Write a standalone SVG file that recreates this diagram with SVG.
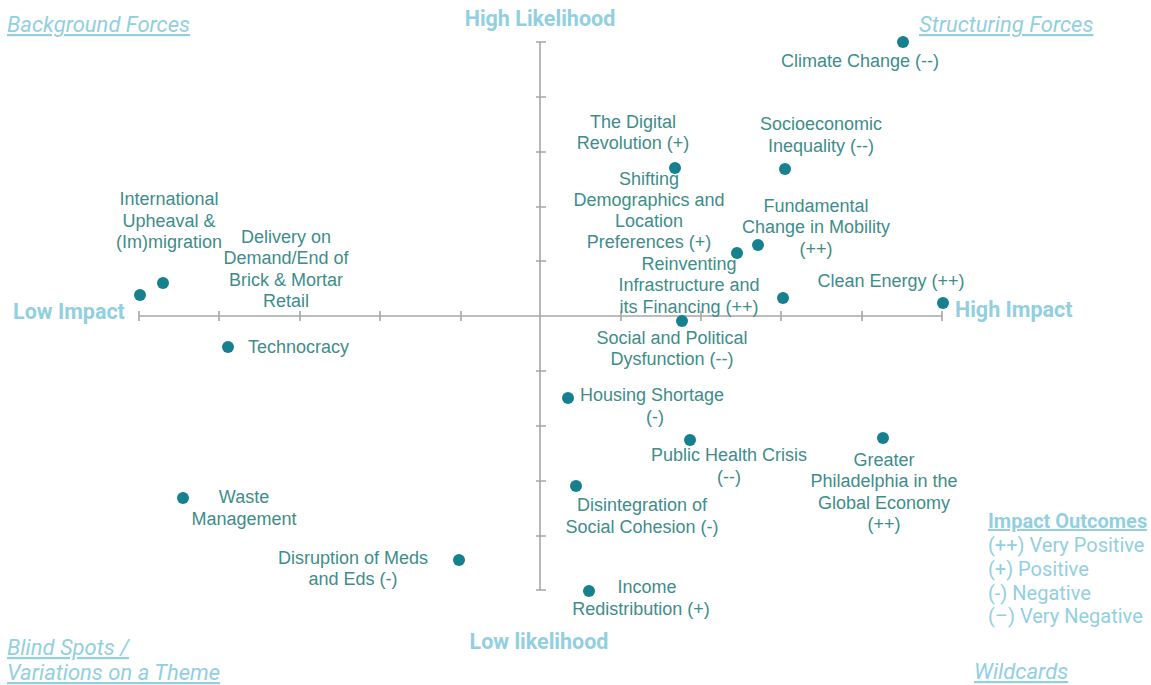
<svg xmlns="http://www.w3.org/2000/svg" width="1151" height="685" viewBox="0 0 1151 685">
<style>
.ax{stroke:#a6a6a6;stroke-width:1.6;fill:none}
.d{fill:#17808f}
.t{font-family:"Liberation Sans",Arial,sans-serif;font-size:18px;fill:#3e8d8a;text-anchor:middle}
.s{text-anchor:start}
.al{font-family:Roboto,"Liberation Sans",sans-serif;font-size:21.5px;font-weight:bold;fill:#92cfdf}
.cl{font-family:Roboto,"Liberation Sans",sans-serif;font-size:22px;font-style:italic;fill:#92cfdf;text-decoration:underline}
.lg{font-family:Roboto,"Liberation Sans",sans-serif;font-size:20px;fill:#92cfdf}
</style>
<rect width="1151" height="685" fill="#fff"/>
<g id="axes">
<line class="ax" x1="540" y1="42" x2="540" y2="590"/>
<line class="ax" x1="139" y1="316" x2="942" y2="316"/>
<path class="ax" d="M536 42H546M536 97H546M536 152H546M536 207H546M536 261H546M536 371H546M536 426H546M536 481H546M536 536H546M536 590H546"/>
<path class="ax" d="M139 311V321M219 311V321M300 311V321M380 311V321M461 311V321M621 311V321M701 311V321M781 311V321M862 311V321M942 311V321"/>
</g>
<g id="axis-labels">
<text class="al" x="540" y="26" text-anchor="middle">High Likelihood</text>
<text class="al" x="539" y="649" text-anchor="middle">Low likelihood</text>
<text class="al" x="13" y="319">Low Impact</text>
<text class="al" x="955" y="317">High Impact</text>
</g>
<g id="corners">
<text class="cl" x="7" y="32">Background Forces</text>
<text class="cl" x="919" y="32">Structuring Forces</text>
<text class="cl" x="7" y="655">Blind Spots /</text>
<text class="cl" x="7" y="680">Variations on a Theme</text>
<text class="cl" x="974" y="679">Wildcards</text>
</g>
<g id="legend">
<text class="lg" x="988" y="528" font-weight="bold" text-decoration="underline">Impact Outcomes</text>
<text class="lg" x="988" y="552">(++) Very Positive</text>
<text class="lg" x="988" y="576">(+) Positive</text>
<text class="lg" x="988" y="600">(-) Negative</text>
<text class="lg" x="988" y="623">(–) Very Negative</text>
</g>
<g id="climate-change"><circle class="d" cx="903" cy="42" r="6"/><text class="t" x="860" y="67">Climate Change (--)</text></g>
<g id="digital-revolution"><circle class="d" cx="675" cy="168" r="6"/><text class="t" x="633" y="128">The Digital</text><text class="t" x="633" y="149">Revolution (+)</text></g>
<g id="socioeconomic-inequality"><circle class="d" cx="785" cy="169" r="6"/><text class="t" x="821" y="130">Socioeconomic</text><text class="t" x="821" y="152">Inequality (--)</text></g>
<g id="shifting-demographics"><circle class="d" cx="737" cy="253" r="6"/><text class="t" x="649" y="185">Shifting</text><text class="t" x="649" y="206">Demographics and</text><text class="t" x="649" y="227">Location</text><text class="t" x="649" y="248">Preferences (+)</text></g>
<g id="mobility"><circle class="d" cx="758" cy="245" r="6"/><text class="t" x="816" y="212">Fundamental</text><text class="t" x="816" y="233">Change in Mobility</text><text class="t" x="816" y="255">(++)</text></g>
<g id="infrastructure"><circle class="d" cx="783" cy="298" r="6"/><text class="t" x="689" y="270">Reinventing</text><text class="t" x="689" y="291">Infrastructure and</text><text class="t" x="689" y="313">its Financing (++)</text></g>
<g id="clean-energy"><circle class="d" cx="943" cy="303" r="6"/><text class="t" x="891" y="287">Clean Energy (++)</text></g>
<g id="dysfunction"><circle class="d" cx="682" cy="321" r="6"/><text class="t" x="672" y="344">Social and Political</text><text class="t" x="672" y="365">Dysfunction (--)</text></g>
<g id="housing"><circle class="d" cx="568" cy="398" r="6"/><text class="t s" x="580" y="401">Housing Shortage</text><text class="t" x="655" y="423">(-)</text></g>
<g id="public-health"><circle class="d" cx="690" cy="440" r="6"/><text class="t" x="729" y="461">Public Health Crisis</text><text class="t" x="729" y="483">(--)</text></g>
<g id="greater-philadelphia"><circle class="d" cx="883" cy="438" r="6"/><text class="t" x="884" y="466">Greater</text><text class="t" x="884" y="487">Philadelphia in the</text><text class="t" x="884" y="509">Global Economy</text><text class="t" x="884" y="530">(++)</text></g>
<g id="social-cohesion"><circle class="d" cx="576" cy="486" r="6"/><text class="t" x="642" y="511">Disintegration of</text><text class="t" x="642" y="533">Social Cohesion (-)</text></g>
<g id="income"><circle class="d" cx="589" cy="591" r="6"/><text class="t" x="647" y="593">Income</text><text class="t" x="641" y="615">Redistribution (+)</text></g>
<g id="meds-eds"><circle class="d" cx="459" cy="560" r="6"/><text class="t" x="353" y="564">Disruption of Meds</text><text class="t" x="353" y="585">and Eds (-)</text></g>
<g id="waste"><circle class="d" cx="183" cy="498" r="6"/><text class="t" x="244" y="503">Waste</text><text class="t" x="244" y="525">Management</text></g>
<g id="technocracy"><circle class="d" cx="228" cy="347" r="6"/><text class="t s" x="248" y="353">Technocracy</text></g>
<g id="international-upheaval"><circle class="d" cx="163" cy="283" r="6"/><text class="t" x="169" y="205">International</text><text class="t" x="169" y="227">Upheaval &amp;</text><text class="t" x="169" y="248">(Im)migration</text></g>
<g id="delivery-on-demand"><circle class="d" cx="140" cy="295" r="6"/><text class="t" x="286" y="243">Delivery on</text><text class="t" x="286" y="264">Demand/End of</text><text class="t" x="286" y="286">Brick &amp; Mortar</text><text class="t" x="286" y="307">Retail</text></g>
</svg>
